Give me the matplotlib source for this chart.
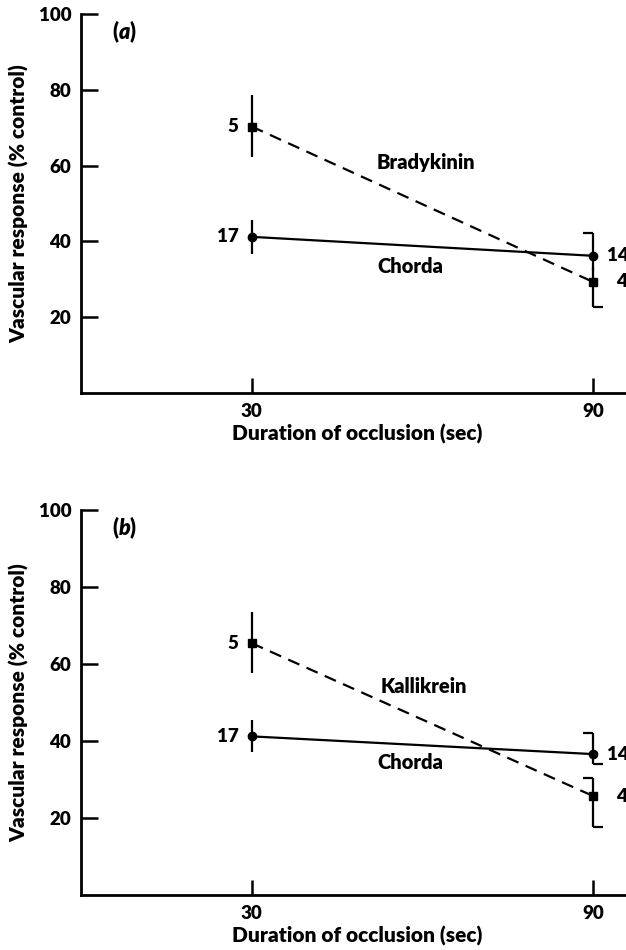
import matplotlib
matplotlib.use('Agg')
import matplotlib.pyplot as plt

# ---------------- data ----------------
durations = [30, 90]
y_ticks = [20, 40, 60, 80, 100]

# panel (a)
chorda_a = [41.2, 36.2]
chorda_a_lo = [4.5, 4.0]
chorda_a_hi = [4.5, 6.0]
brady = [70.3, 29.3]
brady_lo = [8.0, 6.7]
brady_hi = [8.3, 4.0]

# panel (b)
chorda_b = [41.2, 36.6]
chorda_b_lo = [4.0, 2.5]
chorda_b_hi = [4.2, 5.5]
kalli = [65.4, 25.7]
kalli_lo = [7.8, 8.1]
kalli_hi = [8.1, 4.6]

n_chorda = ['17', '14']
n_agent = ['5', '4']

FONT = 'Lato'
WEIGHT = 'heavy'
plt.rcParams['font.family'] = [FONT, 'DejaVu Sans']
plt.rcParams['font.weight'] = WEIGHT
plt.rcParams['axes.labelweight'] = WEIGHT
plt.rcParams['mathtext.fontset'] = 'custom'
plt.rcParams['mathtext.it'] = 'Lato:italic:heavy'
plt.rcParams['mathtext.rm'] = 'Lato:heavy'

fig = plt.figure(figsize=(6.26, 9.5), dpi=100)
W, H = 626, 950


def make_ax(top_px, bottom_px):
    left_px, right_px = 81, 633
    return fig.add_axes([left_px / W, 1 - bottom_px / H,
                         (right_px - left_px) / W, (bottom_px - top_px) / H])


def draw_panel(ax, tag, agent_name, chorda, c_lo, c_hi, agent, a_lo, a_hi,
               cap_flags, agent_lbl_xy, chorda_lbl_xy):
    lw = 1.6
    ax.errorbar(durations, chorda, yerr=[c_lo, c_hi], fmt='none',
                ecolor='black', elinewidth=lw, capsize=0, zorder=2)
    ax.errorbar(durations, agent, yerr=[a_lo, a_hi], fmt='none',
                ecolor='black', elinewidth=lw, capsize=0, zorder=2)
    ax.plot(durations, chorda, color='black', lw=lw, marker='o', ms=6,
            zorder=3)
    ax.plot(durations, agent, color='black', lw=lw, ls=(0, (5.5, 3.5)),
            marker='s', ms=5.8, zorder=3)
    # half caps at the 90-s point
    cw = 1.8
    i = 1
    x = durations[i]
    caps = {
        'c_hi': (chorda[i] + c_hi[i], -1),
        'c_lo': (chorda[i] - c_lo[i], +1),
        'a_hi': (agent[i] + a_hi[i], -1),
        'a_lo': (agent[i] - a_lo[i], +1),
    }
    for key in cap_flags:
        yv, d = caps[key]
        ax.plot([x, x + d * cw], [yv, yv], color='black', lw=lw,
                solid_capstyle='butt', zorder=2)

    fs_n = 13.5
    ax.annotate(n_agent[0], (durations[0], agent[0]), xytext=(-13, 0),
                textcoords='offset pixels', ha='right', va='center',
                fontsize=fs_n)
    ax.annotate(n_chorda[0], (durations[0], chorda[0]), xytext=(-13, 0),
                textcoords='offset pixels', ha='right', va='center',
                fontsize=fs_n)
    ax.annotate(n_chorda[1], (durations[1], chorda[1]), xytext=(14, 0),
                textcoords='offset pixels', ha='left', va='center',
                fontsize=fs_n)
    ax.annotate(n_agent[1], (durations[1], agent[1]), xytext=(23, 0),
                textcoords='offset pixels', ha='left', va='center',
                fontsize=fs_n)

    ax.text(*agent_lbl_xy, agent_name, ha='center', va='center', fontsize=14.5)
    ax.text(*chorda_lbl_xy, 'Chorda', ha='center', va='center', fontsize=14.5)
    ax.text(7.7, 95.3, tag, ha='center', va='center', fontsize=15.5)

    ax.set_xlim(0, 97)
    ax.set_ylim(0, 100)
    ax.set_xticks(durations)
    ax.set_yticks(y_ticks)
    ax.spines['top'].set_visible(False)
    ax.spines['right'].set_visible(False)
    for s in ('left', 'bottom'):
        ax.spines[s].set_linewidth(2.0)
    ax.tick_params(axis='y', direction='in', length=12, width=1.8,
                   labelsize=13.5, pad=7)
    ax.tick_params(axis='x', direction='in', length=11, width=1.8,
                   labelsize=13.5, pad=7)
    ax.set_ylabel('Vascular response (% control)', fontsize=15, labelpad=7)
    ax.set_xlabel('Duration of occlusion (sec)', fontsize=15, labelpad=3)
    ax.patch.set_alpha(0)


ax_a = make_ax(14, 393)
draw_panel(ax_a, r'($\it{a}$)', 'Bradykinin', chorda_a, chorda_a_lo,
           chorda_a_hi, brady, brady_lo, brady_hi,
           ['c_hi', 'a_lo'], (60.7, 60.8), (57.9, 33.5))

ax_b = make_ax(510, 895)
draw_panel(ax_b, r'($\it{b}$)', 'Kallikrein', chorda_b, chorda_b_lo,
           chorda_b_hi, kalli, kalli_lo, kalli_hi,
           ['c_hi', 'c_lo', 'a_hi', 'a_lo'], (60.3, 54.2), (57.9, 34.4))

fig.savefig('out.png', dpi=100)
